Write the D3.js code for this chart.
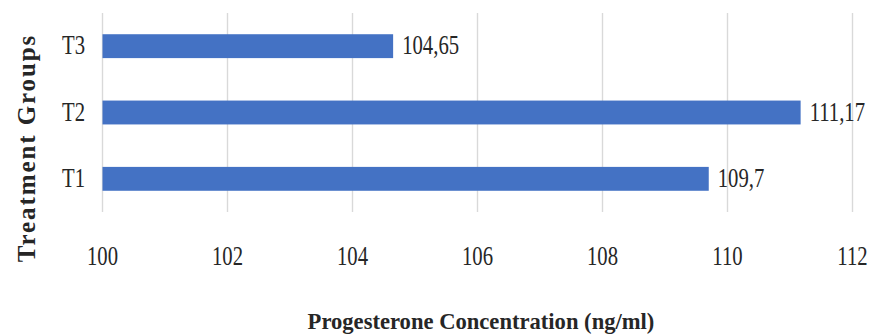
<!DOCTYPE html>
<html>
<head>
<meta charset="utf-8">
<script src="https://cdn.jsdelivr.net/npm/d3@7"></script>
<style>
  html, body { margin: 0; padding: 0; background: #fff; }
  svg { display: block; }
  text { font-family: "Liberation Serif", "Times New Roman", serif; fill: #262626; }
</style>
</head>
<body>
<svg id="chart" width="874" height="336"></svg>
<script>
const categories = ["T3", "T2", "T1"];
const values = [104.65, 111.17, 109.7];
const xTicks = [100, 102, 104, 106, 108, 110, 112];
const xTitle = "Progesterone Concentration (ng/ml)";
const yTitle = "Treatment Groups";

const W = 874, H = 336;
const margin = { left: 102.5, right: 21.5, top: 13, bottom: 124 };
const svg = d3.select("#chart");
const condense = 0.74;

const x = d3.scaleLinear().domain([100, 112]).range([margin.left, W - margin.right]);
const y = d3.scaleBand().domain(categories)
  .range([margin.top, H - margin.bottom])
  .paddingInner(0.64).paddingOuter(0.32);

// gridlines
svg.append("g").selectAll("line").data(xTicks).join("line")
  .attr("x1", d => x(d)).attr("x2", d => x(d))
  .attr("y1", margin.top).attr("y2", H - margin.bottom)
  .attr("stroke", "#d9d9d9").attr("stroke-width", 1.4);

// bars
svg.append("g").selectAll("rect").data(values).join("rect")
  .attr("x", x(100))
  .attr("y", (d, i) => y(categories[i]))
  .attr("width", d => x(d) - x(100))
  .attr("height", y.bandwidth())
  .attr("fill", "#4472c4");

// value labels
svg.append("g").selectAll("text").data(values).join("text")
  .attr("transform", (d, i) => `translate(${x(d) + 9},${y(categories[i]) + y.bandwidth() / 2 + 8}) scale(${condense},1)`)
  .attr("font-size", 28)
  .text(d => String(d).replace(".", ","));

// x tick labels
svg.append("g").selectAll("text").data(xTicks).join("text")
  .attr("transform", d => `translate(${x(d)},265) scale(${condense},1)`)
  .attr("text-anchor", "middle")
  .attr("font-size", 28)
  .text(d => d);

// y category labels
svg.append("g").selectAll("text").data(categories).join("text")
  .attr("transform", d => `translate(85,${y(d) + y.bandwidth() / 2 + 8}) scale(${condense},1)`)
  .attr("text-anchor", "end")
  .attr("font-size", 28)
  .text(d => d);

// x title
svg.append("text")
  .attr("x", 481).attr("y", 329)
  .attr("text-anchor", "middle")
  .attr("font-size", 22.6).attr("font-weight", "bold")
  .text(xTitle);

// y title
svg.append("text")
  .attr("transform", "translate(35,148) rotate(-90)")
  .attr("text-anchor", "middle")
  .attr("font-size", 25).attr("font-weight", "bold")
  .attr("letter-spacing", 1.9)
  .text(yTitle);
</script>
</body>
</html>
